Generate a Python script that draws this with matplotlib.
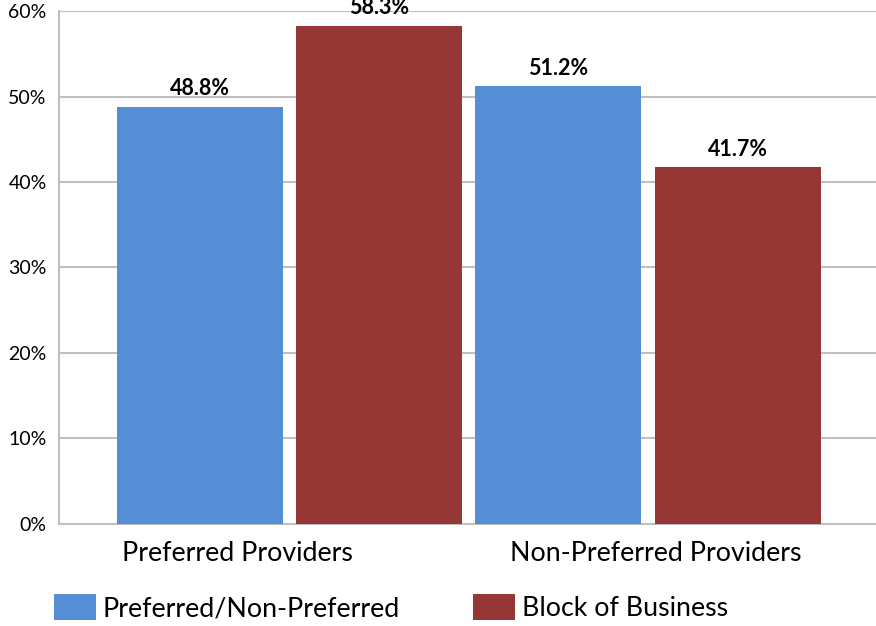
import matplotlib.pyplot as plt
import matplotlib.transforms as mtransforms
import numpy as np

plt.rcParams['font.family'] = ['Lato', 'DejaVu Sans']

# --- datos ---
categories = ['Preferred Providers', 'Non-Preferred Providers']
series_names = ['Preferred/Non-Preferred', 'Block of Business']
pref_nonpref = [48.8, 51.2]
block_business = [58.3, 41.7]
y_ticks = [0, 10, 20, 30, 40, 50, 60]

colors = ['#558ED5', '#953735']
grid_color = '#BFBFBF'

fig = plt.figure(figsize=(8.76, 6.26), dpi=100)
ax = fig.add_axes([0.0674, 0.163, 0.9326, 0.8194])

x = np.arange(len(categories))
width = 0.463
offset = 0.25

for vals, name, col, sign in [(pref_nonpref, series_names[0], colors[0], -1),
                              (block_business, series_names[1], colors[1], 1)]:
    bars = ax.bar(x + sign * offset, vals, width, color=col, label=name, zorder=3)
    for b, v in zip(bars, vals):
        ax.text(b.get_x() + b.get_width() / 2, v + 0.9, f'{v:.1f}%',
                ha='center', va='bottom', fontsize=15.5, fontweight='bold',
                clip_on=False, zorder=4)

# ejes y rejilla
ax.set_ylim(0, 60)
ax.set_xlim(-0.643, 1.636)
ax.set_yticks(y_ticks)
ax.set_yticklabels([f'{t}%' for t in y_ticks])
ax.yaxis.grid(True, color=grid_color, linewidth=1.5, zorder=0)
ax.set_axisbelow(True)
for side in ['top', 'right']:
    ax.spines[side].set_visible(False)
for side in ['left', 'bottom']:
    ax.spines[side].set_color(grid_color)
    ax.spines[side].set_linewidth(1.5)
ax.tick_params(axis='y', length=0, pad=9, labelsize=14)
ax.tick_params(axis='x', length=0, pad=12, labelsize=19.3)
ax.set_xticks(x)
ax.set_xticklabels(categories)

# desplazamiento horizontal de las etiquetas de categoría (en pulgadas)
for lbl, dx in zip(ax.get_xticklabels(), [-0.52, 0.08]):
    lbl.set_transform(lbl.get_transform() +
                      mtransforms.ScaledTranslation(dx, 0, fig.dpi_scale_trans))

ax.legend(loc='lower left', bbox_to_anchor=(0.0493, -0.0094), bbox_transform=fig.transFigure,
          ncol=2, frameon=False, fontsize=19.3, handlelength=1.57, handleheight=1.08,
          handletextpad=0.26, columnspacing=2.72, borderaxespad=0)

plt.savefig('out.png', dpi=100)
